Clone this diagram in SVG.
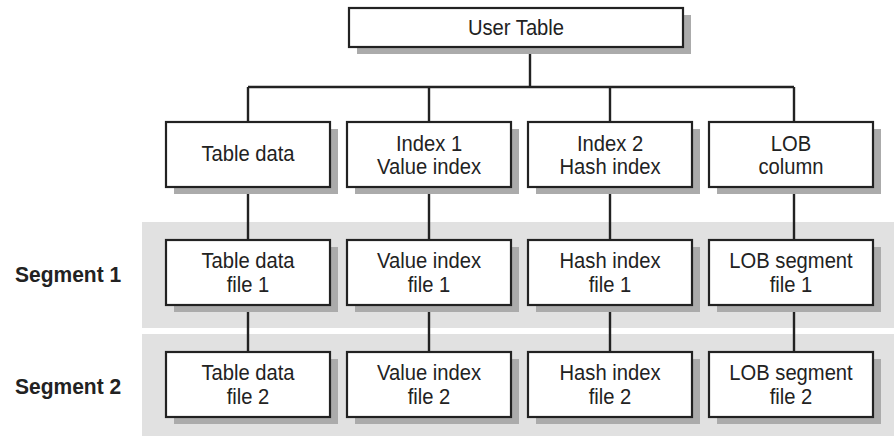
<svg xmlns="http://www.w3.org/2000/svg" width="894" height="436" viewBox="0 0 894 436">
<style>
.band{fill:#e1e1e1}
.sh{fill:#ababab}
.box{fill:#fff;stroke:#222;stroke-width:2.2}
.t{font-family:"Liberation Sans",Arial,sans-serif;font-size:20.2px;fill:#222;text-anchor:middle}
.seg{font-family:"Liberation Sans",Arial,sans-serif;font-size:21px;font-weight:bold;fill:#222}
.c{stroke:#222;stroke-width:2.4;fill:none}
</style>
<rect width="894" height="436" fill="#fff"/>
<g id="bands">
<rect class="band" x="142" y="222" width="752" height="106"/>
<rect class="band" x="142" y="334" width="752" height="102"/>
</g>
<g id="labels">
<text class="seg" transform="translate(15,281.5) scale(1,1.06)">Segment 1</text>
<text class="seg" transform="translate(15,393.5) scale(1,1.06)">Segment 2</text>
</g>
<g id="connectors">
<path class="c" d="M530 47V87M248 87H794M248 87V122M429 87V122M610 87V122M794 87V122"/>
<path class="c" d="M248 187V240M429 187V240M610 187V240M794 187V240"/>
<path class="c" d="M248 305V352M429 305V352M610 305V352M794 305V352"/>
</g>
<g id="user-table">
<rect class="sh" x="357" y="15" width="334" height="39"/>
<rect class="box" x="349" y="8" width="334" height="39"/>
<text class="t" transform="translate(516,34.5) scale(1,1.1)">User Table</text>
</g>
<g id="table-data">
<rect class="sh" x="174" y="129" width="164" height="65"/>
<rect class="box" x="166" y="122" width="164" height="65"/>
<text class="t" transform="translate(248,161) scale(1,1.1)">Table data</text>
</g>
<g id="index1">
<rect class="sh" x="355" y="129" width="164" height="65"/>
<rect class="box" x="347" y="122" width="164" height="65"/>
<text class="t" transform="translate(429,151) scale(1,1.1)">Index 1</text>
<text class="t" transform="translate(429,174) scale(1,1.1)">Value index</text>
</g>
<g id="index2">
<rect class="sh" x="536" y="129" width="164" height="65"/>
<rect class="box" x="528" y="122" width="164" height="65"/>
<text class="t" transform="translate(610,151) scale(1,1.1)">Index 2</text>
<text class="t" transform="translate(610,174) scale(1,1.1)">Hash index</text>
</g>
<g id="lob-column">
<rect class="sh" x="717" y="129" width="164" height="65"/>
<rect class="box" x="709" y="122" width="164" height="65"/>
<text class="t" transform="translate(791,151) scale(1,1.1)">LOB</text>
<text class="t" transform="translate(791,174) scale(1,1.1)">column</text>
</g>
<g id="table-data-file1">
<rect class="sh" x="174" y="247" width="164" height="65"/>
<rect class="box" x="166" y="240" width="164" height="65"/>
<text class="t" transform="translate(248,268) scale(1,1.1)">Table data</text>
<text class="t" transform="translate(248,292) scale(1,1.1)">file 1</text>
</g>
<g id="value-index-file1">
<rect class="sh" x="355" y="247" width="164" height="65"/>
<rect class="box" x="347" y="240" width="164" height="65"/>
<text class="t" transform="translate(429,268) scale(1,1.1)">Value index</text>
<text class="t" transform="translate(429,292) scale(1,1.1)">file 1</text>
</g>
<g id="hash-index-file1">
<rect class="sh" x="536" y="247" width="164" height="65"/>
<rect class="box" x="528" y="240" width="164" height="65"/>
<text class="t" transform="translate(610,268) scale(1,1.1)">Hash index</text>
<text class="t" transform="translate(610,292) scale(1,1.1)">file 1</text>
</g>
<g id="lob-segment-file1">
<rect class="sh" x="717" y="247" width="164" height="65"/>
<rect class="box" x="709" y="240" width="164" height="65"/>
<text class="t" transform="translate(791,268) scale(1,1.1)">LOB segment</text>
<text class="t" transform="translate(791,292) scale(1,1.1)">file 1</text>
</g>
<g id="table-data-file2">
<rect class="sh" x="174" y="359" width="164" height="65"/>
<rect class="box" x="166" y="352" width="164" height="65"/>
<text class="t" transform="translate(248,380) scale(1,1.1)">Table data</text>
<text class="t" transform="translate(248,404) scale(1,1.1)">file 2</text>
</g>
<g id="value-index-file2">
<rect class="sh" x="355" y="359" width="164" height="65"/>
<rect class="box" x="347" y="352" width="164" height="65"/>
<text class="t" transform="translate(429,380) scale(1,1.1)">Value index</text>
<text class="t" transform="translate(429,404) scale(1,1.1)">file 2</text>
</g>
<g id="hash-index-file2">
<rect class="sh" x="536" y="359" width="164" height="65"/>
<rect class="box" x="528" y="352" width="164" height="65"/>
<text class="t" transform="translate(610,380) scale(1,1.1)">Hash index</text>
<text class="t" transform="translate(610,404) scale(1,1.1)">file 2</text>
</g>
<g id="lob-segment-file2">
<rect class="sh" x="717" y="359" width="164" height="65"/>
<rect class="box" x="709" y="352" width="164" height="65"/>
<text class="t" transform="translate(791,380) scale(1,1.1)">LOB segment</text>
<text class="t" transform="translate(791,404) scale(1,1.1)">file 2</text>
</g>
</svg>
